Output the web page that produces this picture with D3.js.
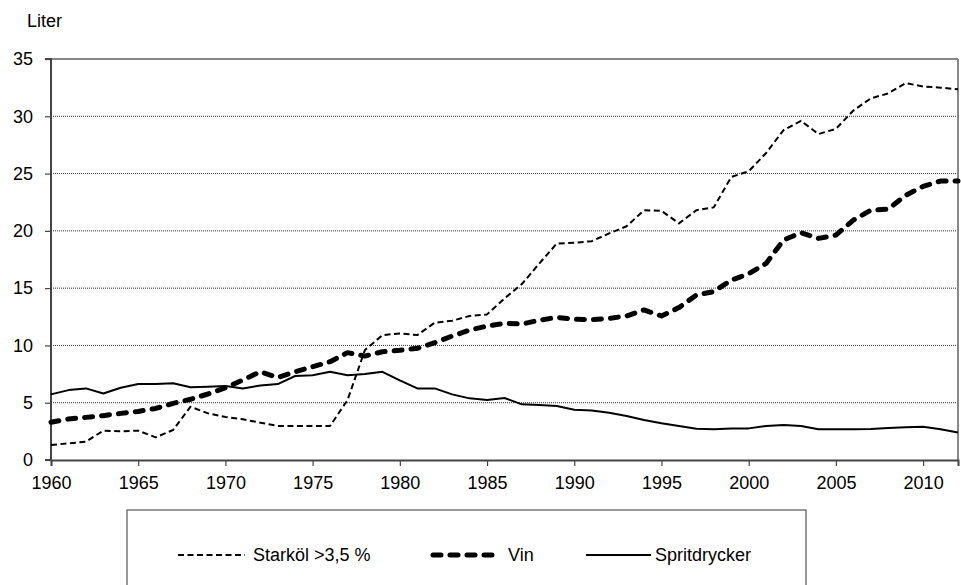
<!DOCTYPE html>
<html><head><meta charset="utf-8">
<script src="https://cdn.jsdelivr.net/npm/d3@7"></script>
<style>body{margin:0;background:#fff}svg{display:block}text{font-family:Arial,"Liberation Sans",sans-serif;fill:#000}</style>
</head><body><svg id="c" width="961" height="585"></svg>
<script>
const years = d3.range(1960, 2013);
const starkol = [1.31,1.45,1.6,2.56,2.5,2.56,1.98,2.62,4.65,4.07,3.75,3.55,3.26,2.97,2.97,2.97,2.97,5.24,9.6,10.9,11.05,10.9,11.98,12.16,12.57,12.71,14.1,15.36,17.16,18.9,18.96,19.1,19.78,20.4,21.8,21.75,20.65,21.8,22.05,24.7,25.2,26.8,28.8,29.6,28.45,28.9,30.5,31.56,32.0,32.9,32.6,32.5,32.35];
const vin = [3.29,3.58,3.72,3.87,4.07,4.24,4.5,4.94,5.3,5.76,6.3,6.98,7.7,7.2,7.7,8.14,8.58,9.37,9.07,9.45,9.57,9.75,10.24,10.82,11.34,11.69,11.92,11.87,12.2,12.45,12.28,12.25,12.36,12.57,13.1,12.57,13.3,14.4,14.7,15.7,16.25,17.16,19.2,19.84,19.34,19.63,20.94,21.8,21.9,23.1,23.88,24.35,24.35];
const sprit = [5.73,6.1,6.25,5.8,6.3,6.63,6.63,6.7,6.35,6.4,6.45,6.25,6.5,6.63,7.33,7.4,7.7,7.4,7.5,7.7,6.95,6.25,6.25,5.73,5.38,5.24,5.41,4.86,4.8,4.71,4.39,4.33,4.13,3.84,3.49,3.2,2.97,2.73,2.68,2.76,2.76,2.97,3.05,2.97,2.68,2.68,2.68,2.71,2.8,2.85,2.9,2.68,2.4];
const yTicks = [0,5,10,15,20,25,30,35];
const xTicks = [1960,1965,1970,1975,1980,1985,1990,1995,2000,2005,2010];
const seriesNames = ["Starköl >3,5 %","Vin","Spritdrycker"];
const yLabel = "Liter";

const svg = d3.select("#c");
const L = 51, R = 958, T = 59, B = 460;
const x = d3.scaleLinear().domain([1960, 2012]).range([L, R]);
const y = d3.scaleLinear().domain([0, 35]).range([B, T]);

// gridlines
svg.append("g").selectAll("line").data(yTicks.filter(v => v > 0 && v < 35)).join("line")
  .attr("x1", L).attr("x2", R).attr("y1", d => y(d)).attr("y2", d => y(d))
  .attr("stroke", "#333").attr("stroke-width", 1).attr("stroke-dasharray", "1,1");
// plot border top & right
svg.append("line").attr("x1", L).attr("x2", R).attr("y1", y(35)).attr("y2", y(35)).attr("stroke", "#888").attr("stroke-width", 2);
svg.append("line").attr("x1", R).attr("x2", R).attr("y1", y(35)).attr("y2", B).attr("stroke", "#888").attr("stroke-width", 2);

// axes
const yAx = svg.append("g").attr("transform", `translate(${L},0)`)
  .call(d3.axisLeft(y).tickValues(yTicks).tickSize(6).tickPadding(12));
const xAx = svg.append("g").attr("transform", `translate(0,${B})`)
  .call(d3.axisBottom(x).tickValues(xTicks).tickFormat(d3.format("d")).tickSize(6).tickPadding(10));
[yAx, xAx].forEach(g => {
  g.select(".domain").attr("stroke", "#444").attr("stroke-width", 2);
  g.selectAll(".tick line").attr("stroke", "#444").attr("stroke-width", 1.2);
  g.selectAll("text").attr("font-size", 18).attr("font-family", "Arial, 'Liberation Sans', sans-serif").attr("fill", "#000");
});
yAx.select(".domain").attr("d", `M-6,${y(35)}H0V${B}H-6`);

svg.append("text").attr("x", 27).attr("y", 27).attr("font-size", 18).text(yLabel);

const line = d3.line().x((d, i) => x(years[i])).y(d => y(d));
const styles = [
  {data: starkol, w: 2, dash: "6,3.5", cap: "butt"},
  {data: vin, w: 5, dash: "8,9", cap: "round"},
  {data: sprit, w: 2, dash: null, cap: "butt"}
];
// draw order: sprit, vin, starkol
[2,1,0].forEach(k => {
  const s = styles[k];
  svg.append("path").datum(s.data).attr("d", line).attr("fill", "none")
    .attr("stroke", "#000").attr("stroke-width", s.w).attr("stroke-linecap", s.cap)
    .attr("stroke-linejoin", "round").attr("stroke-dasharray", s.dash);
});

// legend
const lg = svg.append("g");
lg.append("rect").attr("x", 127).attr("y", 510).attr("width", 679).attr("height", 100)
  .attr("fill", "#fff").attr("stroke", "#555").attr("stroke-width", 1.2);
const legPos = [{x1: 178, x2: 245, tx: 253}, {x1: 433, x2: 499, tx: 508}, {x1: 586, x2: 651, tx: 655}];
const ly = 555;
seriesNames.forEach((n, k) => {
  const s = styles[k], p = legPos[k];
  lg.append("line").attr("x1", p.x1).attr("x2", p.x2).attr("y1", ly).attr("y2", ly)
    .attr("stroke", "#000").attr("stroke-width", s.w).attr("stroke-linecap", s.cap)
    .attr("stroke-dasharray", s.dash);
  lg.append("text").attr("x", p.tx).attr("y", ly).attr("dy", "0.35em").attr("font-size", 18).text(n);
});
</script></body></html>
